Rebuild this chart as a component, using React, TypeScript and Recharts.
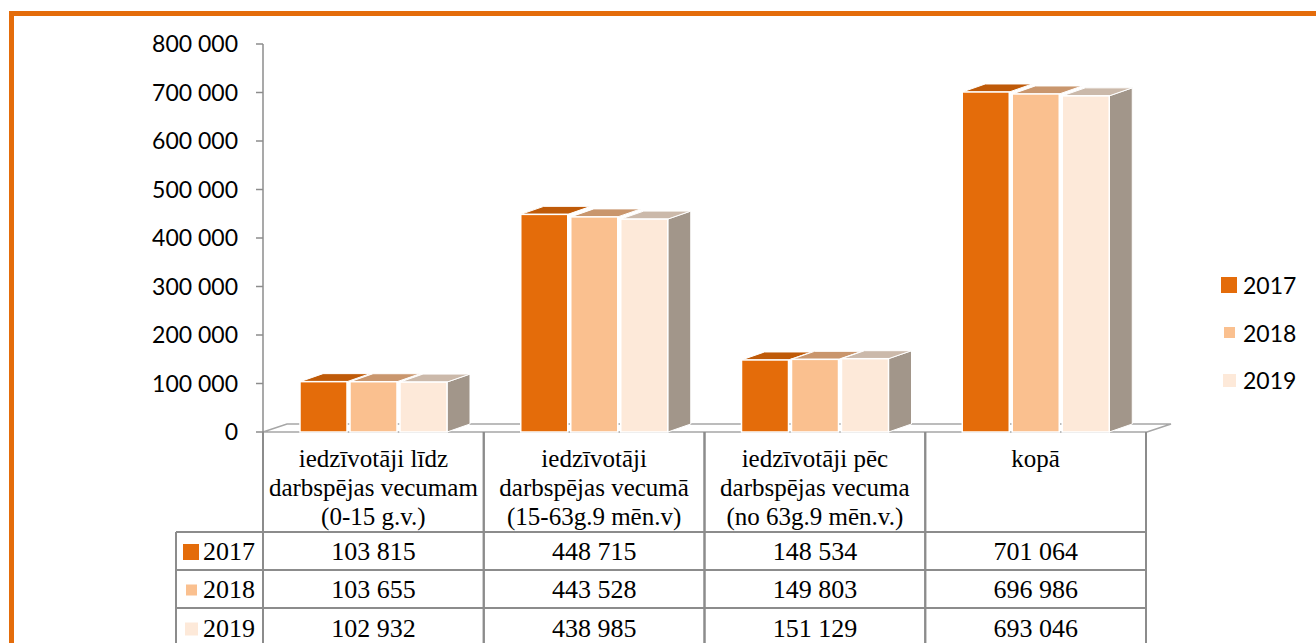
import React from "react"
import { BarChart, Bar, XAxis, YAxis, Legend } from "recharts"

// chart data
const categoryLines = [
  ["iedzīvotāji līdz", "darbspējas vecumam", "(0-15 g.v.)"],
  ["iedzīvotāji", "darbspējas vecumā", "(15-63g.9 mēn.v)"],
  ["iedzīvotāji pēc", "darbspējas vecuma", "(no 63g.9 mēn.v.)"],
  ["kopā"],
]
const years = ["2017", "2018", "2019"]
const values2017 = [103815, 448715, 148534, 701064]
const values2018 = [103655, 443528, 149803, 696986]
const values2019 = [102932, 438985, 151129, 693046]
const yTicks = [0, 100000, 200000, 300000, 400000, 500000, 600000, 700000, 800000]

const seriesValues = [values2017, values2018, values2019]
const frontColors = ["#E46C0A", "#FAC08F", "#FDE9D9"]
const topColors = ["#BF5A08", "#C9966D", "#CBB9AA"]
const sideColor = "#A2968A"

const data = categoryLines.map((lines, i) => ({
  key: `c${i}`,
  y2017: values2017[i],
  y2018: values2018[i],
  y2019: values2019[i],
}))

// layout
const W = 1316
const H = 643
const PLOT_LEFT = 263
const PLOT_RIGHT = 1146
const PLOT_TOP = 44
const PLOT_BOTTOM = 432
const BAND = (PLOT_RIGHT - PLOT_LEFT) / categoryLines.length
const DX = 23
const DY = -8
const GRID = "#8C8C8C"
const SERIF = "'Liberation Serif', 'Times New Roman', serif"
const SANS = "Lato, 'Open Sans', sans-serif"

const fmt = (v: number) => String(v).replace(/\B(?=(\d{3})+(?!\d))/g, " ")

const makeShape = (s: number) => (props: any) => {
  const { x, y, width, height } = props
  if (height == null || width == null) return <g />
  const last = s === years.length - 1
  return (
    <g>
      {last && (
        <polygon
          points={`${x + width},${y} ${x + width + DX},${y + DY} ${x + width + DX},${y + height + DY} ${x + width},${y + height}`}
          fill={sideColor}
          stroke="#fff"
          strokeWidth={1}
        />
      )}
      <polygon
        points={`${x},${y} ${x + DX},${y + DY} ${x + width + DX},${y + DY} ${x + width},${y}`}
        fill={topColors[s]}
        stroke="#fff"
        strokeWidth={1}
      />
      <rect x={x} y={y} width={width} height={height} fill={frontColors[s]} stroke="#fff" strokeWidth={1.5} />
    </g>
  )
}

const rowBase = [560, 598, 637]
const rowLines = [532, 570, 608]
const keyBoxes = [
  { dx: 0, size: 16 },
  { dx: 3, size: 11 },
  { dx: 2, size: 13 },
]

const ColumnTick = (props: any) => {
  const { x, index } = props
  const left = x - BAND / 2
  const right = x + BAND / 2
  const lines = categoryLines[index] || []
  return (
    <g>
      <line x1={left} y1={PLOT_BOTTOM} x2={left} y2={H} stroke={GRID} strokeWidth={2} />
      <line x1={right} y1={PLOT_BOTTOM} x2={right} y2={H} stroke={GRID} strokeWidth={2} />
      {rowLines.map((ly) => (
        <line key={ly} x1={left} y1={ly} x2={right} y2={ly} stroke={GRID} strokeWidth={2} />
      ))}
      {lines.map((t, i) => (
        <text key={i} x={x} y={467 + i * 29} textAnchor="middle" fontFamily={SERIF} fontSize={25} fill="#000">
          {t}
        </text>
      ))}
      {seriesValues.map((vals, s) => (
        <text key={s} x={x} y={rowBase[s]} textAnchor="middle" fontFamily={SERIF} fontSize={26} fill="#000">
          {fmt(vals[index])}
        </text>
      ))}
      {index === 0 && (
        <g>
          <line x1={176} y1={532} x2={176} y2={H} stroke={GRID} strokeWidth={2} />
          {rowLines.map((ly) => (
            <line key={ly} x1={176} y1={ly} x2={left} y2={ly} stroke={GRID} strokeWidth={2} />
          ))}
          {years.map((yr, s) => (
            <g key={yr}>
              <rect
                x={183 + keyBoxes[s].dx}
                y={rowBase[s] - 8 - keyBoxes[s].size / 2}
                width={keyBoxes[s].size}
                height={keyBoxes[s].size}
                fill={frontColors[s]}
              />
              <text x={203} y={rowBase[s]} fontFamily={SERIF} fontSize={26} fill="#000">
                {yr}
              </text>
            </g>
          ))}
        </g>
      )}
    </g>
  )
}

const renderLegend = () => (
  <div style={{ position: "relative", width: 100, height: 130 }}>
    {years.map((yr, s) => (
      <div
        key={yr}
        style={{ position: "absolute", left: 0, top: s * 47.5, height: 26, display: "flex", alignItems: "center" }}
      >
        <div style={{ width: 22, display: "flex", justifyContent: "flex-start" }}>
          <div
            style={{
              width: keyBoxes[s].size,
              height: keyBoxes[s].size,
              marginLeft: keyBoxes[s].dx,
              background: frontColors[s],
            }}
          />
        </div>
        <span style={{ fontFamily: SANS, fontSize: 23, color: "#000" }}>{yr}</span>
      </div>
    ))}
  </div>
)

export default function App() {
  return (
    <div style={{ position: "fixed", left: 0, top: 0, width: W, height: H, overflow: "hidden", background: "#fff" }}>
      {/* orange frame */}
      <div
        style={{
          position: "absolute",
          left: 9,
          top: 11,
          width: W + 20,
          height: H + 20,
          border: "5px solid #E46C0A",
          boxSizing: "border-box",
        }}
      />
      {/* 3d floor */}
      <svg style={{ position: "absolute", left: 0, top: 0 }} width={W} height={H}>
        <polygon
          points={`${PLOT_LEFT},${PLOT_BOTTOM} ${PLOT_RIGHT + 1},${PLOT_BOTTOM} ${PLOT_RIGHT + 25},${PLOT_BOTTOM - 8} ${PLOT_LEFT + 24},${PLOT_BOTTOM - 8}`}
          fill="#fff"
          stroke="#A6A6A6"
          strokeWidth={1.5}
        />
      </svg>
      <div style={{ position: "absolute", left: 0, top: 0 }}>
        <BarChart
          width={W}
          height={H}
          data={data}
          margin={{ top: PLOT_TOP, right: W - PLOT_RIGHT, bottom: 0, left: 0 }}
          barSize={47}
          barGap={3}
        >
          <XAxis
            dataKey="key"
            height={H - PLOT_BOTTOM}
            axisLine={false}
            tickLine={false}
            interval={0}
            tick={(p: any) => <ColumnTick {...p} />}
          />
          <YAxis
            width={PLOT_LEFT}
            domain={[0, 800000]}
            ticks={yTicks}
            interval={0}
            tickFormatter={fmt}
            tick={{ fontFamily: SANS, fontSize: 23, fill: "#000" }}
            tickSize={7}
            tickMargin={18}
            axisLine={{ stroke: GRID, strokeWidth: 1.5 }}
            tickLine={{ stroke: GRID, strokeWidth: 1.5 }}
          />
          <Legend
            layout="vertical"
            align="right"
            verticalAlign="middle"
            content={renderLegend}
            wrapperStyle={{ position: "absolute", left: 1221, top: 272, width: 0, height: 0, overflow: "visible" }}
          />
          <Bar dataKey="y2017" name="2017" fill={frontColors[0]} shape={makeShape(0)} isAnimationActive={false} />
          <Bar dataKey="y2018" name="2018" fill={frontColors[1]} shape={makeShape(1)} isAnimationActive={false} />
          <Bar dataKey="y2019" name="2019" fill={frontColors[2]} shape={makeShape(2)} isAnimationActive={false} />
        </BarChart>
      </div>
    </div>
  )
}
